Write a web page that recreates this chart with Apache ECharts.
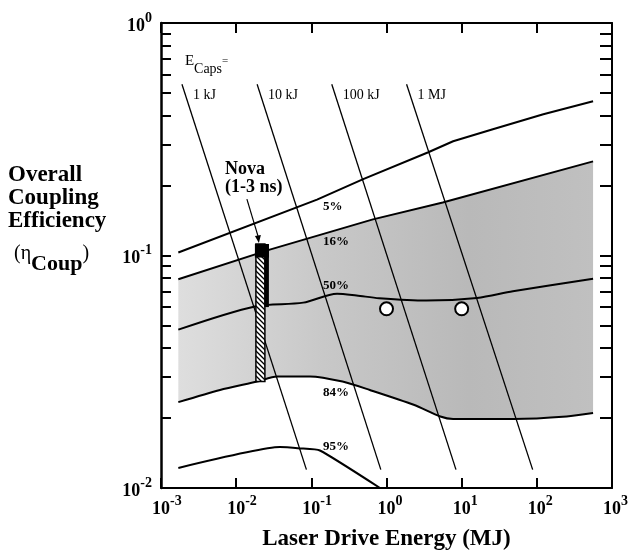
<!DOCTYPE html>
<html><head><meta charset="utf-8">
<script src="https://cdn.jsdelivr.net/npm/echarts@6/dist/echarts.min.js"></script>
<style>html,body{margin:0;padding:0;background:#fff}#c{width:629px;height:555px}</style>
</head><body><div id="c"></div>
<script>
// ---------------- data ----------------
const xTickValues = [0.001, 0.01, 0.1, 1, 10, 100, 1000];
const xTickExps = ['-3', '-2', '-1', '0', '1', '2', '3'];
const yTickValues = [0.01, 0.1, 1];
const yTickExps = ['-2', '-1', '0'];
const yMinorTicks = [0.02,0.03,0.04,0.05,0.06,0.07,0.08,0.09,0.2,0.3,0.4,0.5,0.6,0.7,0.8,0.9];

const pctLabels = ['5%', '16%', '50%', '84%', '95%'];
const curve5  = [[0.0017,0.103],[0.119,0.174],[0.49,0.213],[3.6,0.278],[7.7,0.31],[26,0.349],[122,0.405],[560,0.461]];
const curve16 = [[0.0017,0.079],[0.028,0.106],[0.66,0.143],[5.6,0.169],[560,0.254]];
const curve50 = [[0.0017,0.048],[0.0178,0.0604],[0.078,0.0627],[0.22,0.0685],[0.4,0.0673],[0.8,0.0655],[3.4,0.064],[16,0.0657],[48,0.0702],[560,0.0795]];
const curve84 = [[0.0017,0.0234],[0.0061,0.0264],[0.019,0.0287],[0.035,0.0302],[0.096,0.0302],[0.26,0.0287],[0.6,0.0264],[2.3,0.0228],[5.2,0.0203],[7.7,0.0198],[49,0.0198],[250,0.0203],[560,0.021]];
const curve95 = [[0.0017,0.0122],[0.038,0.015],[0.071,0.0148],[0.13,0.0145],[0.82,0.0100]];

const ecapsLabels = ['1 kJ', '10 kJ', '100 kJ', '1 MJ'];
const ecapsTop    = [[0.0019,0.545],[0.019,0.545],[0.187,0.545],[1.85,0.545]];
const ecapsBottom = [[0.086,0.012],[0.84,0.012],[8.4,0.012],[88,0.012]];

const novaX = 0.022;
const novaHatched = [0.0287, 0.112];   // bottom, top
const novaSolidTop = [0.098, 0.112];
const novaSolidSide = [0.06, 0.112];
const novaLabel = 'Nova\n(1-3 ns)';

const targetPoints = [[1, 0.059], [10, 0.059]];

// ---------------- styling / building ----------------
const SERIF = '"Liberation Serif", "Times New Roman", serif';

function expFor(v, vals, exps) {
  let best = 0, bd = 1e9;
  vals.forEach((t, i) => { const d = Math.abs(Math.log10(t) - Math.log10(v)); if (d < bd) { bd = d; best = i; } });
  return exps[best];
}
const labelRich = {
  pad: { fontFamily: SERIF, fontWeight: 'bold', fontSize: 14, color: 'rgba(0,0,0,0)', padding: [0,0,10,0], verticalAlign: 'top' },
  b:   { fontFamily: SERIF, fontWeight: 'bold', fontSize: 18, color: '#000', verticalAlign: 'bottom' },
  e:   { fontFamily: SERIF, fontWeight: 'bold', fontSize: 14, color: '#000', padding: [0,0,10,0], verticalAlign: 'top' }
};

function hatchCanvas() {
  const cv = document.createElement('canvas');
  cv.width = 5; cv.height = 5;
  const g = cv.getContext('2d');
  g.fillStyle = '#fff'; g.fillRect(0, 0, 5, 5);
  g.strokeStyle = '#000'; g.lineWidth = 1.3;
  g.beginPath();
  g.moveTo(-1, -1); g.lineTo(6, 6);
  g.moveTo(-1, 4); g.lineTo(1, 6);
  g.moveTo(4, -1); g.lineTo(6, 1);
  g.stroke();
  return cv;
}
const hatch = hatchCanvas();

const chart = echarts.init(document.getElementById('c'), null, { renderer: 'canvas' });

const curveStyle = { color: '#000', width: 2 };
const series = [];

// shaded band between 16% and 84%
series.push({
  type: 'custom', name: 'band', z: 1, silent: true,
  data: [[curve16[0][0], curve16[0][1]]],
  renderItem: function (params, api) {
    const pts = curve16.map(p => api.coord(p)).concat(curve84.slice().reverse().map(p => api.coord(p)));
    return {
      type: 'polygon', shape: { points: pts, smooth: 0 },
      style: { fill: new echarts.graphic.LinearGradient(0, 0, 1, 0, [
        { offset: 0, color: '#dedede' }, { offset: 0.35, color: '#c8c8c8' }, { offset: 0.7, color: '#b9b9b9' }, { offset: 1, color: '#c0c0c0' }]) }
    };
  }
});

// Ecaps lines
ecapsLabels.forEach((nm, i) => {
  series.push({ type: 'line', name: nm, z: 2, data: [ecapsTop[i], ecapsBottom[i]], showSymbol: false, symbol: 'none',
    lineStyle: { color: '#000', width: 1.3 }, silent: true, animation: false });
});

// probability curves
[[curve5, 0], [curve16, 0], [curve50, 0.3], [curve84, 0.25], [curve95, 0.15]].forEach(([c, sm], i) => {
  series.push({ type: 'line', name: pctLabels[i], z: 3, data: c, showSymbol: false, symbol: 'none', smooth: sm,
    lineStyle: curveStyle, silent: true, animation: false });
});

// Nova bar
series.push({
  type: 'custom', name: 'Nova', z: 5, silent: true,
  data: [[novaX, novaHatched[1]]],
  renderItem: function (params, api) {
    const top = api.coord([novaX, novaHatched[1]]);
    const bot = api.coord([novaX, novaHatched[0]]);
    const solidB = api.coord([novaX, novaSolidTop[0]]);
    const sideB = api.coord([novaX, novaSolidSide[0]]);
    const cx = top[0];
    return { type: 'group', children: [
      { type: 'rect', shape: { x: cx - 6, y: top[1], width: 9, height: bot[1] - top[1] },
        style: { fill: { type: 'pattern', image: hatch, repeat: 'repeat' }, stroke: '#000', lineWidth: 1.5 } },
      { type: 'rect', shape: { x: cx + 2.5, y: top[1], width: 4.5, height: sideB[1] - top[1] }, style: { fill: '#000' } },
      { type: 'rect', shape: { x: cx - 7, y: top[1], width: 14, height: solidB[1] - top[1] }, style: { fill: '#000' } },
      { type: 'line', shape: { x1: cx - 15, y1: top[1] - 45, x2: cx - 3, y2: top[1] - 5 }, style: { stroke: '#000', lineWidth: 1.2 } },
      { type: 'polygon', shape: { points: [[cx - 3, top[1] - 1], [cx - 7, top[1] - 8], [cx - 1, top[1] - 9]] }, style: { fill: '#000' } }
    ] };
  }
});

// target points (open circles)
series.push({ type: 'scatter', name: 'targets', z: 6, data: targetPoints, symbol: 'circle', symbolSize: 13,
  itemStyle: { color: '#fff', borderColor: '#000', borderWidth: 2, opacity: 1 }, silent: true, animation: false });

// text annotations placed in data coordinates
series.push({
  type: 'custom', name: 'notes', z: 7, silent: true,
  data: [[1, 0.1]],
  renderItem: function (params, api) {
    const ch = [];
    const pctPos = [[0.143, 0.162], [0.143, 0.1143], [0.143, 0.0743], [0.143, 0.0258], [0.143, 0.01503]];
    pctLabels.forEach((t, i) => {
      const p = api.coord(pctPos[i]);
      ch.push({ type: 'text', x: p[0], y: p[1], style: { text: t, fontFamily: SERIF, fontWeight: 'bold', fontSize: 13, fill: '#000', align: 'left', verticalAlign: 'middle' } });
    });
    ecapsLabels.forEach((t, i) => {
      const p = api.coord(ecapsTop[i]);
      ch.push({ type: 'text', x: p[0] + 11, y: p[1] + 11, style: { text: t, fontFamily: SERIF, fontSize: 14, fill: '#000', align: 'left', verticalAlign: 'middle' } });
    });
    const e = api.coord([0.00208, 0.66]);
    ch.push({ type: 'text', x: e[0], y: e[1], style: { text: '{e|E}{s|Caps}{q|=}', align: 'left', verticalAlign: 'middle',
      rich: { e: { fontFamily: SERIF, fontSize: 15, fill: '#000', verticalAlign: 'top' },
              s: { fontFamily: SERIF, fontSize: 14, fill: '#000', verticalAlign: 'bottom', padding: [8, 0, 0, 0] },
              q: { fontFamily: SERIF, fontSize: 11, fill: '#000', verticalAlign: 'top', padding: [2, 0, 0, 0] } } } });
    const n = api.coord([0.0071, 0.215]);
    ch.push({ type: 'text', x: n[0], y: n[1], style: { text: novaLabel, fontFamily: SERIF, fontWeight: 'bold', fontSize: 18, lineHeight: 18, fill: '#000', align: 'left', verticalAlign: 'middle' } });
    return { type: 'group', children: ch };
  }
});

const axisLineStyle = { color: '#000', width: 2 };
const option = {
  animation: false,
  backgroundColor: '#fff',
  grid: { left: 161, top: 23, width: 451, height: 465, containLabel: false, outerBoundsMode: 'none' },
  xAxis: [
    { type: 'log', logBase: 10, min: 0.001, max: 1000, position: 'bottom',
      axisLine: { show: true, lineStyle: axisLineStyle },
      axisTick: { show: true, inside: true, length: 10, lineStyle: { color: '#000', width: 2 }, customValues: xTickValues },
      axisLabel: { show: true, margin: 6, showMinLabel: true, showMaxLabel: true, hideOverlap: false, customValues: xTickValues,
        formatter: v => { const ex = expFor(v, xTickValues, xTickExps); return '{pad|' + ex + '}{b|10}{e|' + ex + '}'; }, rich: labelRich },
      splitLine: { show: false }, minorTick: { show: false },
      name: 'Laser Drive Energy (MJ)', nameLocation: 'middle', nameGap: 40,
      nameTextStyle: { fontFamily: SERIF, fontWeight: 'bold', fontSize: 23, color: '#000' } },
    { type: 'log', logBase: 10, min: 0.001, max: 1000, position: 'top',
      axisLine: { show: true, lineStyle: axisLineStyle },
      axisTick: { show: true, inside: true, length: 10, lineStyle: { color: '#000', width: 2 }, customValues: xTickValues },
      axisLabel: { show: false }, splitLine: { show: false } }
  ],
  yAxis: [
    { type: 'log', logBase: 10, min: 0.01, max: 1, position: 'left',
      axisLine: { show: true, lineStyle: { color: '#000', width: 2.5 } },
      axisTick: { show: true, inside: true, length: 10, lineStyle: { color: '#000', width: 2 }, customValues: yTickValues.concat(yMinorTicks) },
      axisLabel: { show: true, margin: 9, showMinLabel: true, showMaxLabel: true, hideOverlap: false, customValues: yTickValues,
        formatter: v => '{b|10}{e|' + expFor(v, yTickValues, yTickExps) + '}', rich: labelRich },
      splitLine: { show: false } },
    { type: 'log', logBase: 10, min: 0.01, max: 1, position: 'right',
      axisLine: { show: true, lineStyle: axisLineStyle },
      axisTick: { show: true, inside: true, length: 12, lineStyle: { color: '#000', width: 2 }, customValues: yTickValues.concat(yMinorTicks) },
      axisLabel: { show: false }, splitLine: { show: false } }
  ],
  graphic: [
    { type: 'text', left: 8, top: 164, style: { text: 'Overall\nCoupling\nEfficiency', fontFamily: SERIF, fontWeight: 'bold', fontSize: 23, lineHeight: 23, fill: '#000' } },
    { type: 'text', left: 14, top: 244, style: { text: '{p|(}{n|η}{s|Coup}{p|)}',
      rich: { p: { fontFamily: SERIF, fontSize: 20, fill: '#000', verticalAlign: 'top' },
              n: { fontFamily: SERIF, fontSize: 20, fill: '#000', verticalAlign: 'top' },
              s: { fontFamily: SERIF, fontSize: 22, fontWeight: 'bold', fill: '#000', verticalAlign: 'bottom', padding: [9, 0, 0, 0] } } } }
  ],
  series: series
};
chart.setOption(option);
</script>
</body></html>
